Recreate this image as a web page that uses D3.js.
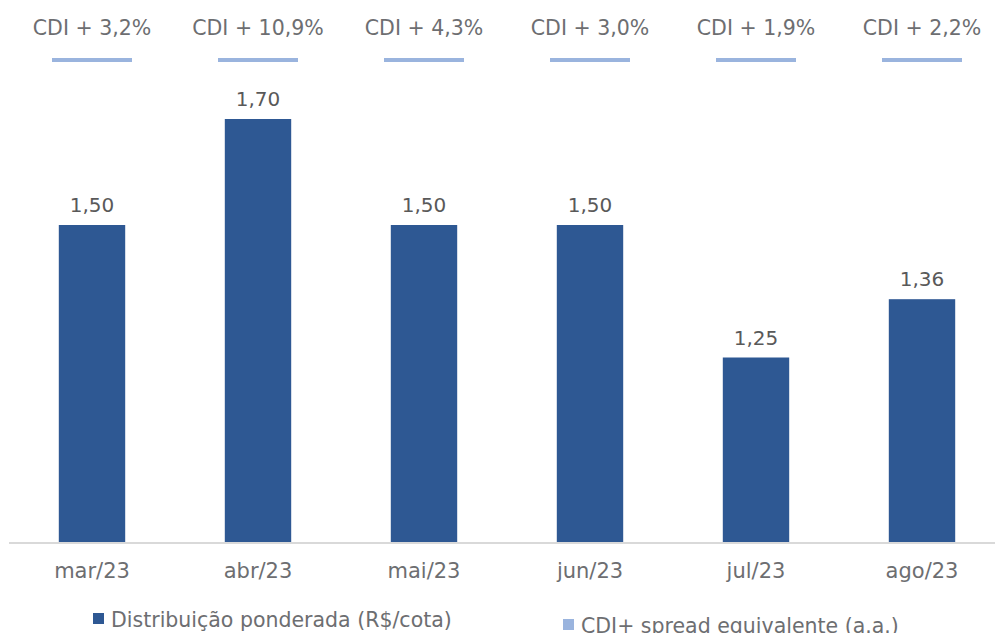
<!DOCTYPE html>
<html>
<head>
<meta charset="utf-8">
<style>
  body { margin: 0; background: #fff; }
  text { font-family: "DejaVu Sans", sans-serif; fill: #6d6e71; }
</style>
</head>
<body>
<svg width="995" height="633"></svg>
<script src="https://d3js.org/d3.v7.min.js"></script>
<script>

var months = ["mar/23", "abr/23", "mai/23", "jun/23", "jul/23", "ago/23"];
var distribuicao = [1.50, 1.70, 1.50, 1.50, 1.25, 1.36];
var spreads = ["CDI + 3,2%", "CDI + 10,9%", "CDI + 4,3%", "CDI + 3,0%", "CDI + 1,9%", "CDI + 2,2%"];

var svg = d3.select("svg");

var barColor = "#2e5893",
    lineColor = "#9ab4de";

var x = d3.scaleBand()
    .domain(months)
    .range([9, 1005])
    .paddingInner(0.6)
    .paddingOuter(0.3);

var y = d3.scaleLinear()
    .domain([0.9, 1.9])
    .range([543, 13]);

var fmt = function(d) { return d.toFixed(2).replace(".", ","); };
var cx = function(d) { return x(d) + x.bandwidth() / 2; };

// bars
svg.append("g")
  .selectAll("rect")
  .data(months)
  .enter().append("rect")
    .attr("x", function(d) { return x(d); })
    .attr("y", function(d, i) { return y(distribuicao[i]); })
    .attr("width", x.bandwidth())
    .attr("height", function(d, i) { return y.range()[0] - y(distribuicao[i]); })
    .attr("fill", barColor);

// value labels
svg.append("g")
  .selectAll("text")
  .data(months)
  .enter().append("text")
    .attr("x", cx)
    .attr("y", function(d, i) { return y(distribuicao[i]) - 13; })
    .attr("text-anchor", "middle")
    .attr("font-size", 20)
    .style("fill", "#595959")
    .text(function(d, i) { return fmt(distribuicao[i]); });

// spread row on top
svg.append("g")
  .selectAll("text")
  .data(months)
  .enter().append("text")
    .attr("x", cx)
    .attr("y", 35)
    .attr("text-anchor", "middle")
    .attr("font-size", 20.5)
    .text(function(d, i) { return spreads[i]; });

svg.append("g")
  .selectAll("line")
  .data(months)
  .enter().append("line")
    .attr("x1", function(d) { return cx(d) - 40; })
    .attr("x2", function(d) { return cx(d) + 40; })
    .attr("y1", 60)
    .attr("y2", 60)
    .attr("stroke", lineColor)
    .attr("stroke-width", 4);

// x axis
var axis = svg.append("g")
    .attr("transform", "translate(0," + y.range()[0] + ")")
    .call(d3.axisBottom(x).tickSize(0).tickPadding(20));
axis.select(".domain").attr("stroke", "#d9d9d9").attr("stroke-width", 2)
    .attr("d", "M9,0H995");
axis.selectAll("text")
    .attr("font-size", 21)
    .attr("font-family", "DejaVu Sans, sans-serif")
    .style("fill", "#6d6e71");

// legend
var legend = svg.append("g");
legend.append("rect")
    .attr("x", 93).attr("y", 613).attr("width", 11).attr("height", 11)
    .attr("fill", barColor);
legend.append("text")
    .attr("x", 111).attr("y", 627)
    .attr("font-size", 20.5)
    .text("Distribuição ponderada (R$/cota)");
legend.append("rect")
    .attr("x", 563).attr("y", 619).attr("width", 11).attr("height", 11)
    .attr("fill", lineColor);
legend.append("text")
    .attr("x", 581).attr("y", 633)
    .attr("font-size", 20.5)
    .text("CDI+ spread equivalente (a.a.)");

</script>
</body>
</html>
